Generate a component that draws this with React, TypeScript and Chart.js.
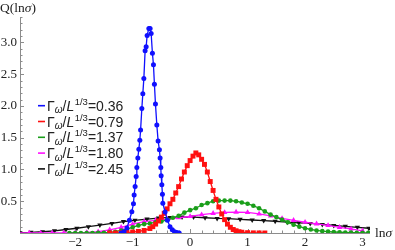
import React, { useEffect, useRef } from 'react';
import { Chart, registerables } from 'chart.js';
Chart.register(...registerables);

// ---- data (lnσ, Q) ----
const blueX = [-1.20,-1.15,-1.10,-1.056,-1.014,-0.986,-0.974,-0.957,-0.939,-0.927,-0.91,-0.892,-0.875,-0.862,-0.84,-0.823,-0.805,-0.783,-0.765,-0.748,-0.718,-0.696,-0.678,-0.656,-0.638,-0.621,-0.603,-0.579,-0.557,-0.534,-0.522,-0.51,-0.504,-0.492,-0.482,-0.475,-0.435,-0.395,-0.35,-0.31,-0.27,-0.23,-0.19];
const blueY = [0.0,0.02,0.08,0.2,0.335,0.46,0.6,0.73,0.89,1.03,1.18,1.32,1.46,1.62,1.96,2.19,2.43,2.87,2.93,3.11,3.22,3.22,3.14,2.83,2.65,2.34,2.03,1.70,1.45,1.31,1.18,1.03,0.90,0.76,0.61,0.47,0.33,0.2,0.1,0.05,0.02,0.008,0.0];

const redX = [-1.40,-1.30,-1.20,-1.10,-1.00,-0.90,-0.80,-0.70,-0.65,-0.60,-0.55,-0.50,-0.45,-0.40,-0.35,-0.30,-0.25,-0.20,-0.15,-0.10,-0.05,0.00,0.05,0.10,0.15,0.20,0.25,0.30,0.35,0.40,0.45,0.50,0.55,0.60,0.65,0.70,0.75,0.80,0.85,0.90,1.00,1.10,1.20,1.30];
const redY = [0.0,0.0,0.005,0.01,0.015,0.025,0.04,0.07,0.1,0.14,0.19,0.25,0.31,0.38,0.46,0.53,0.63,0.73,0.85,0.96,1.06,1.14,1.21,1.26,1.23,1.16,1.08,0.96,0.81,0.67,0.53,0.41,0.30,0.21,0.14,0.09,0.055,0.035,0.02,0.012,0.005,0.002,0.001,0.0];

const greenX = [-2.1,-2.0,-1.9,-1.8,-1.7,-1.6,-1.5,-1.4,-1.3,-1.2,-1.1,-1.0,-0.9,-0.8,-0.7,-0.6,-0.5,-0.4,-0.3,-0.2,-0.1,0.0,0.1,0.2,0.3,0.4,0.5,0.6,0.7,0.8,0.9,1.0,1.1,1.2,1.3,1.4,1.5,1.6,1.7,1.8,1.9,2.0,2.1,2.2,2.3,2.4,2.5,2.6,2.7,2.8,2.9,3.0,3.1];
const greenY = [0.0,0.0,0.0,0.0,0.0,0.002,0.005,0.01,0.02,0.04,0.06,0.09,0.12,0.14,0.15,0.17,0.18,0.21,0.24,0.27,0.32,0.36,0.39,0.44,0.47,0.5,0.51,0.51,0.51,0.5,0.48,0.46,0.43,0.39,0.34,0.29,0.25,0.21,0.17,0.13,0.1,0.075,0.055,0.04,0.03,0.022,0.016,0.012,0.009,0.006,0.004,0.003,0.002];

const magentaX = [-3.0,-2.8,-2.6,-2.4,-2.2,-2.0,-1.8,-1.6,-1.4,-1.2,-1.0,-0.8,-0.6,-0.4,-0.2,0.0,0.2,0.4,0.6,0.8,1.0,1.2,1.4,1.6,1.8,2.0,2.2,2.4,2.6,2.8,3.0];
const magentaY = [0.0,0.0,0.0,0.0,0.002,0.005,0.01,0.02,0.05,0.09,0.14,0.18,0.2,0.22,0.24,0.26,0.29,0.31,0.325,0.33,0.325,0.3,0.27,0.23,0.2,0.17,0.145,0.12,0.09,0.065,0.035];

const blackX = [-2.96,-2.77,-2.57,-2.36,-2.16,-1.97,-1.77,-1.57,-1.36,-1.16,-0.96,-0.75,-0.55,-0.35,-0.14,0.06,0.26,0.47,0.67,0.87,1.08,1.28,1.48,1.69,1.89,2.09,2.30,2.50,2.70,2.91,3.11];
const blackY = [0.005,0.01,0.02,0.035,0.055,0.075,0.1,0.125,0.15,0.18,0.2,0.22,0.235,0.245,0.25,0.25,0.24,0.23,0.225,0.215,0.205,0.195,0.185,0.17,0.16,0.15,0.135,0.12,0.105,0.09,0.075];

const seriesValues = ['0.36', '0.79', '1.37', '1.80', '2.45'];
const seriesColors = ['#1010ff', '#ff1010', '#1a9e1a', '#ff10ff', '#111111'];

const xTickValues = [-2, -1, 0, 1, 2, 3];
const xTickLabels = ['\u22122', '\u22121', '0', '1', '2', '3'];
const yTickValues = [0.5, 1.0, 1.5, 2.0, 2.5, 3.0];
const yTickLabels = ['0.5', '1.0', '1.5', '2.0', '2.5', '3.0'];

const X_MIN = -2.96;
const X_MAX = 3.13;
const Y_MIN = 0;
const Y_MAX = 3.4;

const pts = (xs: number[], ys: number[]) => {
  const n = Math.min(xs.length, ys.length);
  const out: { x: number; y: number }[] = [];
  for (let i = 0; i < n; i++) out.push({ x: xs[i], y: ys[i] });
  return out;
};

const AXIS_COLOR = '#8c8c8c';
const TEXT_COLOR = '#222222';
const SERIF = '"Liberation Serif", "DejaVu Serif", serif';
const SANS = '"Liberation Sans", Arial, sans-serif';

const axesPlugin = {
  id: 'mathAxes',
  beforeDatasetsDraw(chart: any) {
    const ctx = chart.ctx;
    const xs = chart.scales.x;
    const ys = chart.scales.y;
    const y0 = ys.getPixelForValue(0);
    const x0 = xs.left;
    ctx.save();
    ctx.strokeStyle = AXIS_COLOR;
    ctx.lineWidth = 1;
    ctx.beginPath();
    ctx.moveTo(xs.left, y0 + 0.5);
    ctx.lineTo(xs.right, y0 + 0.5);
    ctx.moveTo(x0 + 0.5, ys.top);
    ctx.lineTo(x0 + 0.5, y0);
    ctx.stroke();
    ctx.beginPath();
    const kx0 = Math.ceil(X_MIN / 0.2);
    const kx1 = Math.floor(X_MAX / 0.2);
    for (let k = kx0; k <= kx1; k++) {
      const px = Math.round(xs.getPixelForValue(k * 0.2)) + 0.5;
      const len = k % 5 === 0 ? 4 : 2.5;
      ctx.moveTo(px, y0);
      ctx.lineTo(px, y0 - len);
    }
    const ky1 = Math.floor(Y_MAX / 0.1 + 1e-6);
    for (let k = 1; k <= ky1; k++) {
      const py = Math.round(ys.getPixelForValue(k * 0.1)) + 0.5;
      const len = k % 5 === 0 ? 4 : 2.5;
      ctx.moveTo(x0, py);
      ctx.lineTo(x0 + len, py);
    }
    ctx.stroke();
    ctx.restore();
  },
  afterDraw(chart: any) {
    const ctx = chart.ctx;
    const xs = chart.scales.x;
    const ys = chart.scales.y;
    const y0 = ys.getPixelForValue(0);
    ctx.save();
    ctx.fillStyle = TEXT_COLOR;
    ctx.font = `13px ${SERIF}`;
    ctx.textAlign = 'center';
    ctx.textBaseline = 'top';
    xTickValues.forEach((v, i) => {
      ctx.fillText(xTickLabels[i], xs.getPixelForValue(v), y0 + 3);
    });
    ctx.textAlign = 'right';
    ctx.textBaseline = 'middle';
    yTickValues.forEach((v, i) => {
      ctx.fillText(yTickLabels[i], xs.left - 3, ys.getPixelForValue(v));
    });
    ctx.textAlign = 'left';
    ctx.textBaseline = 'alphabetic';
    const drawRuns = (runs: [string, string][], x: number, y: number) => {
      let cx = x;
      runs.forEach(([t, f]) => {
        ctx.font = f;
        ctx.fillText(t, cx, y);
        cx += ctx.measureText(t).width;
      });
    };
    drawRuns([['Q(ln', `13.5px ${SERIF}`], ['\u03c3', `italic 13.5px ${SERIF}`], [')', `13.5px ${SERIF}`]], 0, 12);
    drawRuns([['ln', `13.5px ${SERIF}`], ['\u03c3', `italic 13.5px ${SERIF}`]], xs.right + 5, y0 + 4);

    // legend
    const lx = 38;
    const ly0 = 105.7;
    const dy = 15.8;
    seriesValues.forEach((val, i) => {
      const y = ly0 + i * dy;
      ctx.strokeStyle = seriesColors[i];
      ctx.lineWidth = 1.6;
      ctx.beginPath();
      ctx.moveTo(lx, y);
      ctx.lineTo(lx + 7, y);
      ctx.stroke();
      ctx.fillStyle = TEXT_COLOR;
      const base = y + 5;
      let cx = lx + 9;
      const put = (t: string, f: string, dyy: number) => {
        ctx.font = f;
        ctx.fillText(t, cx, base + dyy);
        cx += ctx.measureText(t).width;
      };
      put('\u0393', `14px ${SANS}`, 0);
      put('\u03c9', `italic 10px ${SANS}`, 2.5);
      put('/', `14px ${SANS}`, 0);
      put('L', `italic 14px ${SANS}`, 0);
      cx += 0.5;
      put('1/3', `9.5px ${SANS}`, -6);
      put('=' + val, `14px ${SANS}`, 0);
    });
    ctx.restore();
  },
};

export default function App() {
  const canvasRef = useRef<HTMLCanvasElement | null>(null);
  useEffect(() => {
    if (!canvasRef.current) return;
    const mk = (label: string, xs: number[], ys: number[], color: string, style: any, radius: number, rotation = 0) => ({
      label,
      data: pts(xs, ys),
      borderColor: color,
      backgroundColor: color,
      borderWidth: 1.3,
      pointStyle: style,
      pointRadius: radius,
      pointRotation: rotation,
      pointBorderWidth: 0,
      pointBackgroundColor: color,
      showLine: true,
      tension: 0,
      fill: false,
    });
    const chart = new Chart(canvasRef.current, {
      type: 'scatter',
      data: {
        datasets: [
          mk('0.36', blueX, blueY, seriesColors[0], 'circle', 2.5),
          mk('0.79', redX, redY, seriesColors[1], 'rect', 3.5),
          mk('1.37', greenX, greenY, seriesColors[2], 'circle', 2.3),
          mk('1.80', magentaX, magentaY, seriesColors[3], 'triangle', 3.2),
          mk('2.45', blackX, blackY, seriesColors[4], 'triangle', 3, 180),
        ] as any,
      },
      options: {
        animation: false,
        responsive: false,
        maintainAspectRatio: false,
        layout: { padding: { left: 20, right: 25, top: 17, bottom: 17 } },
        plugins: { legend: { display: false }, tooltip: { enabled: false } },
        elements: { line: { borderWidth: 1.3 } },
        scales: {
          x: { type: 'linear', min: X_MIN, max: X_MAX, display: false },
          y: { type: 'linear', min: Y_MIN, max: Y_MAX, display: false },
        },
      } as any,
      plugins: [axesPlugin],
    });
    return () => chart.destroy();
  }, []);
  return (
    <div style={{ position: 'fixed', left: 0, top: 0, width: 395, height: 250, background: '#fff' }}>
      <canvas ref={canvasRef} width={395} height={250} style={{ width: 395, height: 250 }} />
    </div>
  );
}
